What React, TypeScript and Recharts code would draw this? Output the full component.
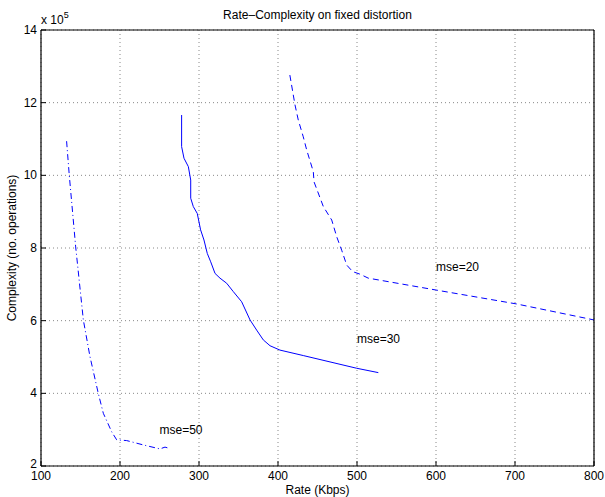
import { LineChart, Line, XAxis, YAxis, CartesianGrid, ReferenceDot, Label } from 'recharts';

const FONT = '"Liberation Sans", Arial, Helvetica, sans-serif';
const BLUE = '#0000ff';

const rateTicks = [100, 200, 300, 400, 500, 600, 700, 800];
const complexityTicks = [2, 4, 6, 8, 10, 12, 14];

// complexity values are in units of 10^5 operations
const mse50Rate = [132.4, 135.8, 143.9, 153.6, 162, 172.5, 178.9, 189.5, 195.8, 208.4, 229.5, 250.6, 257, 263];
const mse50Cplx = [10.94, 10.0, 8.03, 6.02, 5.01, 4.0, 3.45, 2.94, 2.72, 2.7, 2.58, 2.47, 2.52, 2.48];

const mse30Rate = [278, 278, 281, 286.5, 289.5, 289.5, 292.8, 297.8, 302, 306.3, 310.5, 314.8, 320.3, 326.6, 335, 343.4, 354, 364.6, 373, 381.4, 389.9, 402.5, 432, 499.6, 527];
const mse30Cplx = [11.66, 10.79, 10.47, 10.24, 9.87, 9.37, 9.14, 8.95, 8.5, 8.22, 7.85, 7.62, 7.3, 7.17, 7.03, 6.8, 6.52, 6.02, 5.74, 5.47, 5.31, 5.19, 5.04, 4.69, 4.57];

const mse20Rate = [415, 421.5, 425.7, 432, 436.3, 444.7, 445.6, 457.4, 468, 474.3, 480.6, 487, 494.5, 503.8, 514.3, 600.9, 702, 800];
const mse20Cplx = [12.76, 11.94, 11.52, 11.06, 10.7, 10.1, 9.82, 9.14, 8.77, 8.31, 7.94, 7.53, 7.35, 7.28, 7.17, 6.84, 6.46, 6.02];

const notes = [
    { rate: 600, cplx: 7.5, text: 'mse=20' },
    { rate: 500, cplx: 5.5, text: 'mse=30' },
    { rate: 250, cplx: 3, text: 'mse=50' },
];

const toPoints = (rates: number[], cplx: number[]) => rates.map((r, i) => ({ rate: r, cplx: cplx[i] }));

const series = [
    { name: 'mse=50', data: toPoints(mse50Rate, mse50Cplx), dash: '6 3 1 3' },
    { name: 'mse=30', data: toPoints(mse30Rate, mse30Cplx), dash: undefined },
    { name: 'mse=20', data: toPoints(mse20Rate, mse20Cplx), dash: '6 4' },
];

const txt = { fontFamily: FONT, fontSize: 12, fill: '#000' };

const BottomTick = ({ x, y, payload }: any) => (
    <g>
        <line x1={x} y1={y} x2={x} y2={y - 5} stroke="#000" />
        <text x={x} y={y + 14} textAnchor="middle" {...txt}>{payload.value}</text>
    </g>
);
const TopTick = ({ x, y }: any) => <line x1={x} y1={y} x2={x} y2={y + 5} stroke="#000" />;
const LeftTick = ({ x, y, payload }: any) => (
    <g>
        <line x1={x} y1={y} x2={x + 5} y2={y} stroke="#000" />
        {/* lowest label sits a little higher so it clears the "100" below it */}
        <text x={x - 4} y={payload.value === complexityTicks[0] ? y + 1.5 : y + 4} textAnchor="end" {...txt}>{payload.value}</text>
    </g>
);
const RightTick = ({ x, y }: any) => <line x1={x} y1={y} x2={x - 5} y2={y} stroke="#000" />;

export default function App() {
    return <div style={{ position: 'absolute', left: 0, top: 0, background: '#fff' }}>
        <LineChart width={605} height={497} margin={{ top: 0, right: 0, bottom: 0, left: 0 }}>
            <CartesianGrid stroke="#888" strokeDasharray="1 3" />
            <XAxis dataKey="rate" type="number" domain={[100, 800]} ticks={rateTicks} interval={0}
                height={31} tickSize={0} tickMargin={0} tickLine={false} tick={<BottomTick />}
                axisLine={{ stroke: '#000', strokeWidth: 1.2 }}>
                <Label content={({ viewBox }: any) =>
                    <text x={viewBox.x + viewBox.width / 2} y={viewBox.y + 28} textAnchor="middle" {...txt}>Rate (Kbps)</text>} />
            </XAxis>
            <XAxis xAxisId="top" orientation="top" type="number" domain={[100, 800]} ticks={rateTicks} interval={0}
                height={30} tickSize={0} tickMargin={0} tickLine={false} tick={<TopTick />}
                axisLine={{ stroke: '#000', strokeWidth: 1.2 }}>
                <Label content={({ viewBox }: any) =>
                    <text x={viewBox.x + viewBox.width / 2} y={19} textAnchor="middle" {...txt}>Rate–Complexity on fixed distortion</text>} />
            </XAxis>
            <YAxis type="number" domain={[2, 14]} ticks={complexityTicks} interval={0}
                width={41} tickSize={0} tickMargin={0} tickLine={false} tick={<LeftTick />}
                axisLine={{ stroke: '#000', strokeWidth: 1.2 }}>
                <Label content={({ viewBox }: any) =>
                    <g>
                        <text x={12} y={viewBox.y + viewBox.height / 2} textAnchor="middle" dominantBaseline="central"
                            transform={`rotate(-90 12 ${viewBox.y + viewBox.height / 2})`} {...txt}>Complexity (no. operations)</text>
                        <text x={viewBox.x + viewBox.width} y={viewBox.y - 6} {...txt}>
                            x 10<tspan dy={-6} fontSize={9}>5</tspan>
                        </text>
                    </g>} />
            </YAxis>
            <YAxis yAxisId="right" orientation="right" type="number" domain={[2, 14]} ticks={complexityTicks} interval={0}
                width={11} tickSize={0} tickMargin={0} tickLine={false} tick={<RightTick />}
                axisLine={{ stroke: '#000', strokeWidth: 1.2 }} />
            {series.map(s => (
                <Line key={s.name} data={s.data} dataKey="cplx" type="linear" stroke={BLUE} strokeWidth={1}
                    strokeDasharray={s.dash} dot={false} activeDot={false} isAnimationActive={false} />
            ))}
            {notes.map(n => (
                <ReferenceDot key={n.text} x={n.rate} y={n.cplx} r={0}
                    shape={(p: any) => <text x={p.cx} y={p.cy + 4.5} {...txt}>{n.text}</text>} />
            ))}
        </LineChart>
    </div>;
}
